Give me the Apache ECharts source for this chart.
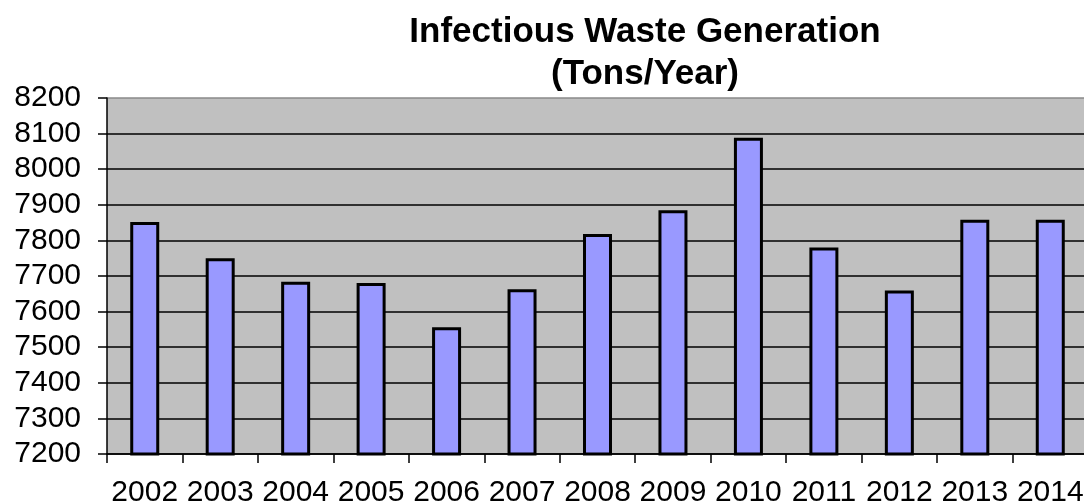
<!DOCTYPE html>
<html>
<head>
<meta charset="utf-8">
<script src="https://cdn.jsdelivr.net/npm/echarts@6/dist/echarts.min.js"></script>
<style>
  html, body { margin: 0; padding: 0; background: #fff; }
  #main { width: 1084px; height: 504px; }
</style>
</head>
<body>
<div id="main"></div>
<script>
// values
var years = ['2002', '2003', '2004', '2005', '2006', '2007', '2008', '2009', '2010', '2011', '2012', '2013', '2014'];
var tons = [7852, 7750, 7684, 7680, 7556, 7663, 7818, 7885, 8088, 7780, 7659, 7858, 7858];
var yMin = 7200, yMax = 8200, yStep = 100;

var chart = echarts.init(document.getElementById('main'), null, { renderer: 'canvas' });

// gridline colours, bottom to top; top one is the lighter plot border
var gridColors = [];
for (var i = 0; i <= (yMax - yMin) / yStep; i++) gridColors.push('#000');
gridColors[gridColors.length - 1] = '#8a8a8a';

var font = 'Liberation Sans, Arial, sans-serif';

var option = {
  backgroundColor: '#fff',
  animation: false,
  title: {
    text: 'Infectious Waste Generation\n(Tons/Year)',
    left: 640,
    top: 6,
    textAlign: 'center',
    textStyle: {
      fontFamily: font,
      fontWeight: 'bold',
      fontSize: 35,
      lineHeight: 42,
      color: '#000'
    }
  },
  grid: {
    left: 107,
    right: -4,
    top: 98,
    bottom: 50,
    outerBoundsMode: 'none',
    show: true,
    backgroundColor: '#c0c0c0',
    borderWidth: 0
  },
  xAxis: {
    type: 'category',
    data: years,
    axisLine: { lineStyle: { color: '#000', width: 1.5 } },
    axisTick: { show: true, length: 9, lineStyle: { color: '#000', width: 1.5 } },
    axisLabel: {
      interval: 0,
      color: '#000',
      fontFamily: font,
      fontSize: 30,
      margin: 24
    }
  },
  yAxis: {
    type: 'value',
    min: yMin,
    max: yMax,
    interval: yStep,
    axisLine: { show: true, lineStyle: { color: '#000', width: 1.5 } },
    axisTick: { show: true, length: 9, lineStyle: { color: '#000', width: 1.5 } },
    axisLabel: {
      color: '#000',
      fontFamily: font,
      fontSize: 30,
      margin: 26,
      formatter: function (v) { return String(v); }
    },
    splitLine: { show: true, lineStyle: { color: gridColors, width: 1.5 } }
  },
  series: [{
    type: 'bar',
    data: tons,
    barWidth: 29,
    itemStyle: {
      color: '#9999ff',
      borderColor: '#000',
      borderWidth: 3
    }
  }]
};

chart.setOption(option);
</script>
</body>
</html>
